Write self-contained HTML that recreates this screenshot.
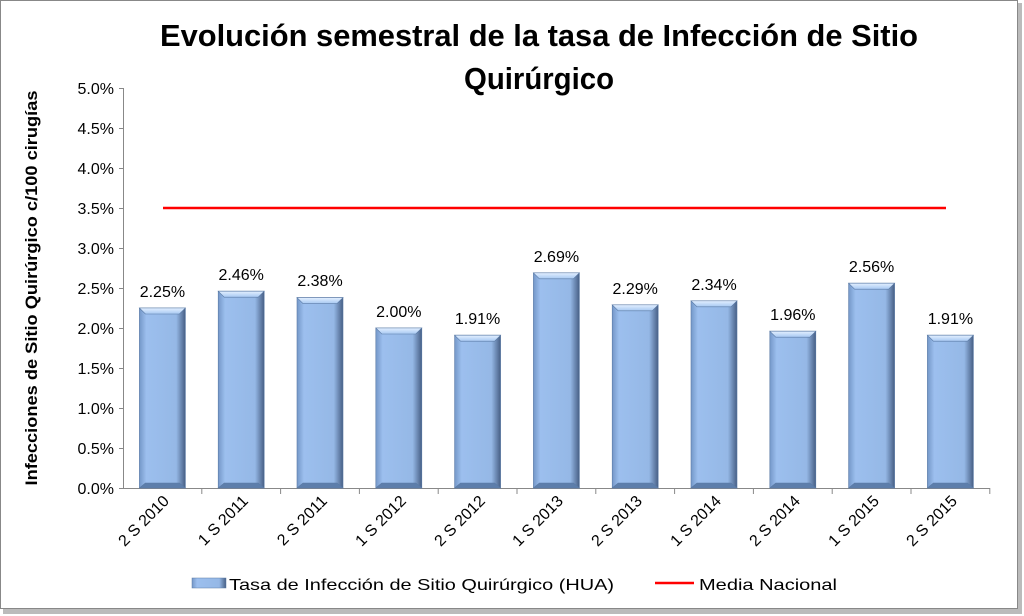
<!DOCTYPE html>
<html><head><meta charset="utf-8"><style>body{margin:0;background:#fff}svg{display:block}</style></head><body>
<svg width="1024" height="616" xmlns="http://www.w3.org/2000/svg" font-family="'Liberation Sans', sans-serif">
<defs>
<linearGradient id="g" x1="0" x2="1" y1="0" y2="0">
<stop offset="0" stop-color="#7497c8"/><stop offset="0.15" stop-color="#9cbfee"/><stop offset="0.8" stop-color="#95b8e6"/><stop offset="1" stop-color="#475f85"/></linearGradient>
<linearGradient id="t" x1="0" x2="0" y1="0" y2="1"><stop offset="0" stop-color="#e4f0ff"/><stop offset="1" stop-color="#a7c8f2"/></linearGradient>
</defs>
<rect x="3" y="3" width="1019" height="611" fill="#bbb"/>
<rect x="0.5" y="0.5" width="1017" height="608" fill="#fff" stroke="#888"/>
<text x="539" y="46" font-size="31" font-weight="bold" text-anchor="middle" textLength="758" lengthAdjust="spacingAndGlyphs">Evolución semestral de la tasa de Infección de Sitio</text>
<text x="539" y="89" font-size="31" font-weight="bold" text-anchor="middle" textLength="150" lengthAdjust="spacingAndGlyphs">Quirúrgico</text>
<text transform="translate(37,288) rotate(-90)" font-size="17" font-weight="bold" text-anchor="middle" textLength="395" lengthAdjust="spacingAndGlyphs">Infecciones de Sitio Quirúrgico c/100 cirugías</text>
<g font-size="16" text-anchor="end" fill="#000">
<text x="114" y="494">0.0%</text><text x="114" y="454">0.5%</text><text x="114" y="414">1.0%</text><text x="114" y="374">1.5%</text><text x="114" y="334">2.0%</text><text x="114" y="294">2.5%</text><text x="114" y="254">3.0%</text><text x="114" y="214">3.5%</text><text x="114" y="174">4.0%</text><text x="114" y="134">4.5%</text><text x="114" y="94">5.0%</text>
</g>
<g stroke="#888">
<line x1="123.5" y1="88" x2="123.5" y2="488"/>
<line x1="119" y1="88.5" x2="123" y2="88.5"/><line x1="119" y1="128.5" x2="123" y2="128.5"/><line x1="119" y1="168.5" x2="123" y2="168.5"/><line x1="119" y1="208.5" x2="123" y2="208.5"/><line x1="119" y1="248.5" x2="123" y2="248.5"/><line x1="119" y1="288.5" x2="123" y2="288.5"/><line x1="119" y1="328.5" x2="123" y2="328.5"/><line x1="119" y1="368.5" x2="123" y2="368.5"/><line x1="119" y1="408.5" x2="123" y2="408.5"/><line x1="119" y1="448.5" x2="123" y2="448.5"/>
<line x1="119" y1="488.5" x2="990" y2="488.5"/>
<line x1="201.8" y1="488" x2="201.8" y2="494"/><line x1="280.6" y1="488" x2="280.6" y2="494"/><line x1="359.4" y1="488" x2="359.4" y2="494"/><line x1="438.2" y1="488" x2="438.2" y2="494"/><line x1="517" y1="488" x2="517" y2="494"/><line x1="595.8" y1="488" x2="595.8" y2="494"/><line x1="674.6" y1="488" x2="674.6" y2="494"/><line x1="753.4" y1="488" x2="753.4" y2="494"/><line x1="832.2" y1="488" x2="832.2" y2="494"/><line x1="911" y1="488" x2="911" y2="494"/><line x1="989.8" y1="488" x2="989.8" y2="494"/>
</g>
<g stroke="#5a7aa5" stroke-width="0.6">
<g transform="translate(139.4,308)"><rect width="46" height="180" fill="url(#g)"/><polygon points="0,0 46,0 40,6 6,6" fill="url(#t)"/><polygon points="0,180 46,180 40,175 6,175" fill="#5d7eab"/></g>
<g transform="translate(218.2,291.2)"><rect width="46" height="196.8" fill="url(#g)"/><polygon points="0,0 46,0 40,6 6,6" fill="url(#t)"/><polygon points="0,196.8 46,196.8 40,191.8 6,191.8" fill="#5d7eab"/></g>
<g transform="translate(297,297.6)"><rect width="46" height="190.4" fill="url(#g)"/><polygon points="0,0 46,0 40,6 6,6" fill="url(#t)"/><polygon points="0,190.4 46,190.4 40,185.4 6,185.4" fill="#5d7eab"/></g>
<g transform="translate(375.8,328)"><rect width="46" height="160" fill="url(#g)"/><polygon points="0,0 46,0 40,6 6,6" fill="url(#t)"/><polygon points="0,160 46,160 40,155 6,155" fill="#5d7eab"/></g>
<g transform="translate(454.6,335.2)"><rect width="46" height="152.8" fill="url(#g)"/><polygon points="0,0 46,0 40,6 6,6" fill="url(#t)"/><polygon points="0,152.8 46,152.8 40,147.8 6,147.8" fill="#5d7eab"/></g>
<g transform="translate(533.4,272.8)"><rect width="46" height="215.2" fill="url(#g)"/><polygon points="0,0 46,0 40,6 6,6" fill="url(#t)"/><polygon points="0,215.2 46,215.2 40,210.2 6,210.2" fill="#5d7eab"/></g>
<g transform="translate(612.2,304.8)"><rect width="46" height="183.2" fill="url(#g)"/><polygon points="0,0 46,0 40,6 6,6" fill="url(#t)"/><polygon points="0,183.2 46,183.2 40,178.2 6,178.2" fill="#5d7eab"/></g>
<g transform="translate(691,300.8)"><rect width="46" height="187.2" fill="url(#g)"/><polygon points="0,0 46,0 40,6 6,6" fill="url(#t)"/><polygon points="0,187.2 46,187.2 40,182.2 6,182.2" fill="#5d7eab"/></g>
<g transform="translate(769.8,331.2)"><rect width="46" height="156.8" fill="url(#g)"/><polygon points="0,0 46,0 40,6 6,6" fill="url(#t)"/><polygon points="0,156.8 46,156.8 40,151.8 6,151.8" fill="#5d7eab"/></g>
<g transform="translate(848.6,283.2)"><rect width="46" height="204.8" fill="url(#g)"/><polygon points="0,0 46,0 40,6 6,6" fill="url(#t)"/><polygon points="0,204.8 46,204.8 40,199.8 6,199.8" fill="#5d7eab"/></g>
<g transform="translate(927.4,335.2)"><rect width="46" height="152.8" fill="url(#g)"/><polygon points="0,0 46,0 40,6 6,6" fill="url(#t)"/><polygon points="0,152.8 46,152.8 40,147.8 6,147.8" fill="#5d7eab"/></g>
</g>
<g font-size="16" text-anchor="middle">
<text x="162.4" y="297">2.25%</text><text x="241.2" y="280">2.46%</text><text x="320" y="286">2.38%</text><text x="398.8" y="317">2.00%</text><text x="477.6" y="324">1.91%</text><text x="556.4" y="262">2.69%</text><text x="635.2" y="294">2.29%</text><text x="714" y="290">2.34%</text><text x="792.8" y="320">1.96%</text><text x="871.6" y="272">2.56%</text><text x="950.4" y="324">1.91%</text>
</g>
<g font-size="16" text-anchor="end">
<text transform="translate(170,502) rotate(-45)">2 S 2010</text>
<text transform="translate(249,502) rotate(-45)">1 S 2011</text>
<text transform="translate(328,502) rotate(-45)">2 S 2011</text>
<text transform="translate(407,502) rotate(-45)">1 S 2012</text>
<text transform="translate(486,502) rotate(-45)">2 S 2012</text>
<text transform="translate(564,502) rotate(-45)">1 S 2013</text>
<text transform="translate(643,502) rotate(-45)">2 S 2013</text>
<text transform="translate(722,502) rotate(-45)">1 S 2014</text>
<text transform="translate(801,502) rotate(-45)">2 S 2014</text>
<text transform="translate(880,502) rotate(-45)">1 S 2015</text>
<text transform="translate(958,502) rotate(-45)">2 S 2015</text>
</g>
<line x1="163" y1="208" x2="946" y2="208" stroke="#f00" stroke-width="2.5"/>
<rect x="192" y="578" width="34" height="10" fill="url(#g)" stroke="#5a7aa5" stroke-width="0.5"/>
<text x="229" y="590" font-size="16" textLength="385" lengthAdjust="spacingAndGlyphs">Tasa de Infección de Sitio Quirúrgico  (HUA)</text>
<line x1="655" y1="583" x2="694" y2="583" stroke="#f00" stroke-width="2.5"/>
<text x="699" y="590" font-size="16" textLength="138" lengthAdjust="spacingAndGlyphs">Media Nacional</text>
</svg>
</body></html>
